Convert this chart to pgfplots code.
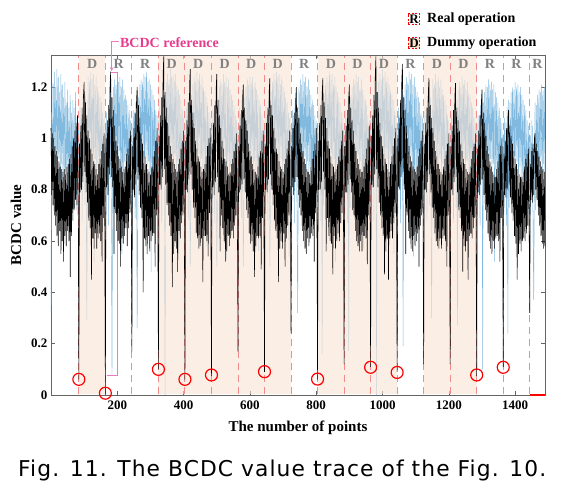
\documentclass[border=0pt]{standalone}
\usepackage{fontspec}
\setmainfont{Liberation Serif}
\newfontfamily\capfont[LetterSpace=5]{DejaVu Sans}
\usepackage{pgfplots}
\usepackage{pgfplotstable}
\pgfplotsset{compat=1.18}
\usetikzlibrary{arrows.meta}
\definecolor{trblue}{RGB}{130,185,222}
\definecolor{peach}{RGB}{248,226,212}
\definecolor{legpeach}{RGB}{250,225,205}
\definecolor{dashred}{RGB}{240,140,140}
\definecolor{pinkline}{RGB}{240,120,190}
\definecolor{pinktext}{RGB}{230,60,140}
\definecolor{axgrey}{RGB}{100,100,100}

% black trace, sampled every 2 points (x = 0,2,...,1490)
\pgfplotstableread[row sep=\\]{
y\\
1.04\\0.78\\1.02\\0.74\\1.00\\0.70\\0.97\\0.66\\0.95\\0.62\\0.93\\0.58\\0.91\\0.64\\0.89\\0.55\\0.88\\0.60\\0.87\\0.52\\0.88\\0.62\\0.86\\0.58\\0.89\\0.64\\0.90\\0.60\\0.92\\0.46\\0.94\\0.62\\0.97\\0.68\\1.00\\0.72\\1.03\\0.76\\1.06\\0.74\\1.09\\0.80\\
0.06\\0.98\\0.79\\1.05\\0.80\\1.12\\0.83\\1.17\\1.22\\0.87\\1.14\\0.79\\1.09\\0.75\\1.03\\0.68\\1.00\\0.65\\0.96\\0.45\\0.94\\0.61\\0.91\\0.57\\0.90\\0.63\\0.88\\0.57\\0.86\\0.61\\0.90\\0.63\\0.92\\0.60\\0.95\\0.52\\0.98\\0.69\\1.02\\0.73\\
0.00\\1.00\\0.81\\1.07\\0.78\\1.13\\0.86\\1.20\\1.26\\0.85\\1.16\\0.81\\1.11\\0.55\\1.05\\0.71\\0.99\\0.64\\0.97\\0.60\\0.93\\0.59\\0.92\\0.50\\0.89\\0.61\\0.87\\0.59\\0.88\\0.62\\0.89\\0.65\\0.94\\0.58\\0.96\\0.65\\1.00\\0.71\\1.03\\0.75\\
0.17\\0.97\\0.80\\1.04\\0.77\\1.10\\0.82\\1.15\\1.20\\0.84\\1.13\\0.78\\1.08\\0.73\\1.02\\0.69\\0.98\\0.40\\0.95\\0.61\\0.93\\0.58\\0.90\\0.55\\0.88\\0.62\\0.87\\0.56\\0.86\\0.60\\0.89\\0.62\\0.93\\0.63\\0.95\\0.50\\0.99\\0.70\\1.04\\0.74\\
0.10\\1.01\\0.82\\1.09\\0.80\\1.16\\0.85\\1.24\\1.32\\0.88\\1.18\\0.82\\1.12\\0.74\\1.06\\0.70\\1.01\\0.66\\0.97\\0.62\\0.94\\0.42\\0.92\\0.55\\0.90\\0.60\\0.88\\0.57\\0.87\\0.48\\0.90\\0.64\\0.92\\0.61\\0.96\\0.67\\0.99\\0.70\\1.03\\0.74\\
0.06\\0.99\\0.80\\1.07\\0.79\\1.14\\0.84\\1.21\\1.27\\0.86\\1.15\\0.80\\1.10\\0.73\\1.04\\0.69\\0.99\\0.63\\0.96\\0.61\\0.93\\0.57\\0.91\\0.58\\0.89\\0.61\\0.87\\0.44\\0.88\\0.62\\0.90\\0.62\\0.93\\0.60\\0.97\\0.54\\1.00\\0.71\\1.04\\0.75\\
0.075\\0.98\\0.81\\1.06\\0.78\\1.13\\0.83\\1.19\\1.25\\0.85\\1.15\\0.79\\1.09\\0.56\\1.04\\0.70\\0.99\\0.65\\0.96\\0.60\\0.92\\0.52\\0.91\\0.56\\0.89\\0.62\\0.86\\0.58\\0.87\\0.61\\0.90\\0.64\\0.92\\0.61\\0.95\\0.66\\0.98\\0.70\\1.02\\0.73\\
0.17\\0.97\\0.79\\1.05\\0.80\\1.11\\0.82\\1.16\\1.21\\0.84\\1.12\\0.79\\1.07\\0.72\\1.03\\0.69\\0.98\\0.63\\0.95\\0.59\\0.93\\0.60\\0.90\\0.56\\0.88\\0.46\\0.87\\0.58\\0.86\\0.62\\0.89\\0.61\\0.93\\0.62\\0.95\\0.49\\0.99\\0.69\\1.03\\0.74\\
0.09\\0.98\\0.80\\1.06\\0.79\\1.12\\0.84\\1.18\\1.235\\0.86\\1.13\\0.80\\1.09\\0.74\\1.04\\0.68\\1.00\\0.64\\0.96\\0.61\\0.94\\0.44\\0.91\\0.57\\0.89\\0.60\\0.88\\0.57\\0.87\\0.63\\0.90\\0.50\\0.92\\0.61\\0.96\\0.66\\0.99\\0.70\\1.03\\0.75\\
0.24\\0.97\\0.81\\1.04\\0.78\\1.10\\0.83\\1.15\\1.20\\0.85\\1.12\\0.78\\1.08\\0.73\\1.02\\0.70\\0.98\\0.64\\0.95\\0.60\\0.92\\0.57\\0.90\\0.55\\0.88\\0.61\\0.87\\0.58\\0.86\\0.61\\0.89\\0.63\\0.92\\0.62\\0.95\\0.52\\0.98\\0.71\\1.04\\0.74\\
0.06\\0.99\\0.80\\1.06\\0.80\\1.13\\0.83\\1.18\\1.235\\0.87\\1.14\\0.80\\1.08\\0.56\\1.04\\0.69\\0.99\\0.62\\0.96\\0.60\\0.93\\0.59\\0.90\\0.47\\0.89\\0.62\\0.87\\0.57\\0.88\\0.60\\0.90\\0.63\\0.93\\0.60\\0.96\\0.67\\0.99\\0.71\\1.03\\0.73\\
0.12\\0.97\\0.79\\1.05\\0.79\\1.11\\0.82\\1.16\\1.21\\0.84\\1.12\\0.79\\1.07\\0.72\\1.03\\0.70\\0.98\\0.64\\0.95\\0.60\\0.92\\0.58\\0.90\\0.56\\0.88\\0.60\\0.87\\0.56\\0.87\\0.62\\0.89\\0.62\\0.92\\0.61\\0.96\\0.51\\1.00\\0.70\\1.05\\0.76\\
0.11\\1.01\\0.82\\1.09\\0.81\\1.17\\0.86\\1.24\\1.32\\0.88\\1.18\\0.81\\1.12\\0.75\\1.06\\0.70\\1.01\\0.65\\0.97\\0.62\\0.94\\0.47\\0.92\\0.56\\0.90\\0.61\\0.88\\0.45\\0.87\\0.61\\0.90\\0.64\\0.93\\0.61\\0.97\\0.67\\1.00\\0.71\\1.04\\0.75\\
0.09\\1.00\\0.81\\1.08\\0.80\\1.15\\0.85\\1.22\\1.29\\0.87\\1.16\\0.80\\1.11\\0.55\\1.05\\0.70\\1.00\\0.64\\0.97\\0.61\\0.93\\0.57\\0.91\\0.56\\0.89\\0.62\\0.88\\0.58\\0.87\\0.60\\0.89\\0.63\\0.93\\0.50\\0.96\\0.66\\0.99\\0.70\\1.03\\0.74\\
0.12\\0.98\\0.80\\1.06\\0.79\\1.12\\0.83\\1.18\\1.235\\0.86\\1.13\\0.79\\1.08\\0.73\\1.04\\0.69\\0.99\\0.63\\0.95\\0.60\\0.93\\0.58\\0.90\\0.57\\0.88\\0.61\\0.87\\0.57\\0.86\\0.61\\0.89\\0.62\\0.92\\0.60\\0.95\\0.50\\0.98\\0.70\\1.02\\0.74\\
0.12\\0.97\\0.80\\1.05\\0.78\\1.11\\0.83\\1.16\\1.215\\0.85\\1.12\\0.79\\1.07\\0.72\\1.03\\0.69\\0.98\\0.64\\0.95\\0.48\\0.92\\0.58\\0.90\\0.56\\0.88\\0.60\\0.87\\0.45\\0.86\\0.62\\0.89\\0.63\\0.92\\0.61\\0.95\\0.65\\0.98\\0.69\\1.02\\0.73\\
0.075\\0.96\\0.79\\1.03\\0.78\\1.09\\0.82\\1.14\\1.19\\0.84\\1.10\\0.78\\1.06\\0.72\\1.01\\0.68\\0.97\\0.63\\0.94\\0.60\\0.91\\0.57\\0.89\\0.55\\0.87\\0.60\\0.86\\0.57\\0.85\\0.61\\0.88\\0.62\\0.91\\0.60\\0.94\\0.52\\0.97\\0.69\\1.00\\0.72\\
0.11\\0.94\\0.78\\0.99\\0.77\\1.04\\0.80\\1.08\\1.11\\0.82\\1.05\\0.77\\1.01\\0.71\\0.98\\0.68\\0.95\\0.62\\0.92\\0.59\\0.90\\0.45\\0.88\\0.55\\0.86\\0.59\\0.85\\0.56\\0.85\\0.60\\0.87\\0.61\\0.89\\0.60\\0.92\\0.63\\0.94\\0.66\\0.96\\0.70\\
0.32\\0.90\\0.76\\0.95\\0.75\\0.98\\0.78\\1.00\\1.02\\0.80\\0.98\\0.76\\0.95\\0.70\\0.93\\0.66\\0.91\\0.62\\0.89\\0.59\\0.88\\0.57\\0.87\\0.58\\
}\blackdata

% blue trace, sampled every 2 points (x = 0,2,...,1490)
\pgfplotstableread[row sep=\\]{
y\\
0.32\\1.10\\0.85\\1.22\\0.90\\1.26\\0.88\\1.20\\0.94\\1.27\\0.86\\1.24\\0.92\\1.18\\0.84\\1.25\\0.90\\1.21\\0.82\\1.16\\0.88\\1.22\\0.80\\1.14\\0.86\\1.19\\0.78\\1.12\\0.84\\1.17\\0.76\\1.10\\0.82\\1.15\\0.74\\1.12\\0.80\\1.18\\0.72\\1.08\\0.78\\1.05\\
1.06\\0.72\\1.12\\0.80\\1.09\\0.68\\1.16\\0.86\\1.19\\0.74\\1.17\\0.90\\0.29\\0.87\\1.24\\0.93\\1.22\\0.95\\1.26\\0.91\\1.23\\0.94\\1.25\\0.52\\1.21\\0.92\\1.24\\0.86\\1.20\\0.90\\1.18\\0.84\\1.16\\0.79\\1.14\\0.82\\1.10\\0.76\\1.08\\0.78\\
1.04\\0.70\\1.10\\0.82\\1.08\\0.66\\1.15\\0.84\\1.18\\0.72\\0.08\\0.88\\1.20\\0.86\\1.23\\0.92\\1.21\\0.94\\1.25\\0.90\\1.22\\0.95\\1.24\\0.87\\1.20\\0.55\\1.23\\0.88\\1.19\\0.91\\1.17\\0.83\\1.15\\0.80\\1.13\\0.81\\1.11\\0.75\\1.07\\0.77\\
1.05\\0.73\\1.11\\0.79\\1.10\\0.69\\1.14\\0.85\\0.26\\0.75\\1.16\\0.89\\1.21\\0.88\\1.23\\0.94\\1.22\\0.93\\1.25\\0.92\\1.24\\0.93\\1.26\\0.89\\1.22\\0.91\\1.23\\0.87\\1.21\\0.48\\1.19\\0.85\\1.17\\0.80\\1.15\\0.83\\1.11\\0.77\\1.09\\0.79\\
1.07\\0.71\\1.13\\0.81\\1.10\\0.67\\1.17\\0.87\\1.20\\0.73\\0.00\\0.91\\1.22\\0.88\\1.25\\0.92\\1.23\\0.96\\1.27\\0.90\\1.24\\0.93\\1.25\\0.89\\1.22\\0.93\\1.25\\0.85\\1.21\\0.91\\1.19\\0.55\\1.17\\0.80\\1.15\\0.83\\1.11\\0.76\\1.08\\0.78\\
1.06\\0.72\\1.12\\0.80\\1.09\\0.68\\1.16\\0.86\\0.50\\0.74\\1.17\\0.90\\1.21\\0.87\\1.24\\0.93\\1.22\\0.95\\1.26\\0.91\\1.23\\0.94\\1.25\\0.88\\1.21\\0.92\\1.24\\0.86\\1.20\\0.90\\1.18\\0.84\\1.16\\0.58\\1.14\\0.82\\1.10\\0.76\\1.08\\0.78\\
1.05\\0.71\\1.11\\0.81\\1.10\\0.67\\1.15\\0.85\\0.50\\0.73\\1.16\\0.89\\1.20\\0.86\\1.23\\0.92\\1.21\\0.94\\1.25\\0.90\\1.22\\0.93\\1.24\\0.53\\1.20\\0.91\\1.23\\0.87\\1.19\\0.89\\1.17\\0.83\\1.15\\0.80\\1.13\\0.81\\1.09\\0.75\\1.07\\0.77\\
1.04\\0.73\\1.12\\0.79\\1.08\\0.69\\1.15\\0.84\\0.50\\0.75\\1.16\\0.88\\1.20\\0.88\\1.23\\0.93\\1.21\\0.94\\1.24\\0.90\\1.22\\0.92\\1.24\\0.88\\1.20\\0.91\\1.22\\0.86\\1.19\\0.89\\1.17\\0.56\\1.15\\0.80\\1.13\\0.82\\1.09\\0.76\\1.07\\0.78\\
1.06\\0.72\\1.13\\0.80\\1.10\\0.68\\1.16\\0.86\\0.50\\0.74\\1.18\\0.90\\1.22\\0.87\\1.25\\0.93\\1.23\\0.95\\1.26\\0.91\\1.24\\0.94\\1.25\\0.88\\1.21\\0.92\\1.24\\0.86\\1.20\\0.90\\1.18\\0.84\\1.16\\0.79\\1.14\\0.82\\1.10\\0.54\\1.08\\0.78\\
1.05\\0.71\\1.11\\0.81\\1.09\\0.67\\1.15\\0.85\\1.18\\0.73\\0.32\\0.89\\1.20\\0.86\\1.23\\0.92\\1.21\\0.94\\1.25\\0.90\\1.22\\0.93\\1.24\\0.87\\1.20\\0.91\\1.23\\0.85\\1.19\\0.89\\1.17\\0.83\\1.15\\0.78\\1.13\\0.81\\1.09\\0.75\\1.07\\0.77\\
1.06\\0.72\\1.12\\0.80\\1.09\\0.68\\1.16\\0.16\\1.19\\0.74\\1.17\\0.90\\1.21\\0.87\\1.24\\0.93\\1.22\\0.95\\1.26\\0.91\\1.23\\0.94\\1.25\\0.88\\1.21\\0.92\\1.24\\0.52\\1.20\\0.90\\1.18\\0.84\\1.16\\0.79\\1.14\\0.82\\1.10\\0.76\\1.08\\0.78\\
1.04\\0.70\\1.11\\0.81\\1.08\\0.67\\1.15\\0.17\\1.18\\0.73\\1.16\\0.89\\1.20\\0.86\\1.23\\0.92\\1.21\\0.94\\1.25\\0.90\\1.22\\0.93\\1.24\\0.87\\1.20\\0.91\\1.23\\0.85\\1.19\\0.57\\1.17\\0.83\\1.15\\0.78\\1.13\\0.81\\1.09\\0.75\\1.07\\0.77\\
1.07\\0.72\\1.13\\0.81\\1.10\\0.68\\1.17\\0.86\\1.20\\0.00\\1.18\\0.90\\1.22\\0.88\\1.25\\0.93\\1.23\\0.95\\1.27\\0.91\\1.24\\0.94\\1.26\\0.88\\1.22\\0.92\\1.24\\0.86\\1.21\\0.90\\1.19\\0.84\\1.17\\0.79\\1.15\\0.55\\1.11\\0.76\\1.09\\0.78\\
1.06\\0.71\\1.12\\0.80\\1.09\\0.67\\1.16\\0.86\\1.19\\0.19\\1.17\\0.89\\1.21\\0.87\\1.24\\0.92\\1.22\\0.94\\1.26\\0.90\\1.23\\0.93\\1.25\\0.88\\1.21\\0.54\\1.24\\0.86\\1.20\\0.89\\1.18\\0.83\\1.16\\0.79\\1.14\\0.81\\1.10\\0.76\\1.08\\0.77\\
1.05\\0.72\\1.11\\0.80\\1.09\\0.68\\1.15\\0.85\\1.18\\0.74\\1.16\\0.89\\0.30\\0.87\\1.23\\0.93\\1.21\\0.94\\1.25\\0.91\\1.22\\0.93\\1.24\\0.88\\1.20\\0.92\\1.23\\0.86\\1.19\\0.90\\1.17\\0.84\\1.15\\0.56\\1.13\\0.82\\1.09\\0.76\\1.07\\0.78\\
1.04\\0.71\\1.10\\0.79\\1.08\\0.67\\1.14\\0.84\\1.17\\0.73\\1.15\\0.27\\1.19\\0.86\\1.22\\0.92\\1.20\\0.93\\1.24\\0.90\\1.21\\0.92\\1.23\\0.87\\1.19\\0.91\\1.22\\0.85\\1.18\\0.89\\1.16\\0.83\\1.14\\0.79\\1.12\\0.81\\1.08\\0.75\\1.06\\0.77\\
1.03\\0.70\\1.09\\0.79\\1.07\\0.66\\1.13\\0.84\\1.16\\0.10\\1.14\\0.88\\1.18\\0.86\\1.21\\0.91\\1.20\\0.93\\1.23\\0.89\\1.21\\0.92\\1.22\\0.87\\1.19\\0.90\\1.21\\0.52\\1.18\\0.88\\1.16\\0.83\\1.14\\0.78\\1.12\\0.80\\1.08\\0.75\\1.06\\0.76\\
1.02\\0.70\\1.08\\0.78\\1.06\\0.66\\1.12\\0.24\\1.15\\0.73\\1.14\\0.87\\1.18\\0.85\\1.20\\0.90\\1.19\\0.92\\1.22\\0.88\\1.20\\0.91\\1.21\\0.86\\1.18\\0.89\\1.20\\0.84\\1.17\\0.87\\1.15\\0.82\\1.13\\0.78\\1.11\\0.80\\1.07\\0.74\\1.05\\0.76\\
1.02\\0.70\\1.07\\0.78\\1.05\\0.66\\0.37\\0.84\\1.14\\0.72\\1.13\\0.86\\1.17\\0.84\\1.19\\0.89\\1.18\\0.91\\1.21\\0.87\\1.19\\0.90\\1.20\\0.85\\
}\bluedata

\begin{document}
\begin{tikzpicture}
\useasboundingbox (-51pt,-93pt) rectangle (514pt,395pt);
\begin{axis}[
  at={(0pt,0pt)}, anchor=south west,
  width=494pt, height=340pt, scale only axis,
  xmin=0, xmax=1490, ymin=0, ymax=1.325,
  clip=false,
  axis line style={draw=axgrey, line width=0.9pt},
  tick style={draw=axgrey, line width=0.6pt},
  major tick length=4pt,
  xtick={200,400,600,800,1000,1200,1400},
  xticklabels={200,400,600,800,1000,1200,1400},
  ytick={0,0.2,0.4,0.6,0.8,1,1.2},
  yticklabels={0,0.2,0.4,0.6,0.8,1,1.2},
  tick label style={font=\bfseries\fontsize{13}{14}\selectfont, text=black},
  xticklabel style={yshift=-2pt},
  xlabel={The number of points},
  ylabel={BCDC value},
  label style={font=\bfseries\fontsize{15}{16}\selectfont},
  xlabel style={at={(axis description cs:0.5,-0.065)}, anchor=north},
  ylabel style={at={(axis description cs:-0.053,0.5)}, anchor=south},
]
\addplot[trblue, line width=0.45pt] table[x expr=\coordindex*2, y=y]{\bluedata};

\fill[peach, fill opacity=0.6] (axis cs:84,0.003) rectangle (axis cs:164,1.322);
\fill[peach, fill opacity=0.6] (axis cs:324,0.003) rectangle (axis cs:724,1.322);
\fill[peach, fill opacity=0.6] (axis cs:804,0.003) rectangle (axis cs:1044,1.322);
\fill[peach, fill opacity=0.6] (axis cs:1124,0.003) rectangle (axis cs:1284,1.322);

\pgfplotsinvokeforeach{84,164,244,324,404,484,564,644,724,804,884,964,1044,1124,1204,1284,1364,1444}{
  \draw[dashred, line width=0.9pt, dash pattern=on 7pt off 5pt] (axis cs:#1,0.003) -- (axis cs:#1,1.322);
}

\draw[pinkline, line width=0.9pt] (axis cs:168,0.075) -- (axis cs:201,0.075) -- (axis cs:201,1.257) -- (axis cs:181,1.257);

\addplot[black, line width=0.55pt] table[x expr=\coordindex*2, y=y]{\blackdata};

\addplot[only marks, mark=o, mark size=6pt, mark options={draw=red, line width=1.2pt}] coordinates {
(84,0.061) (164,0.007) (324,0.10) (404,0.061) (484,0.078) (644,0.091)
(804,0.062) (964,0.108) (1044,0.088) (1284,0.078) (1364,0.108)};

\draw[red, line width=1.5pt] (axis cs:1444,0) -- (axis cs:1490,0);

\begin{scope}[every node/.style={font=\bfseries\fontsize{14}{14}\selectfont, text=gray}]
\node at (axis cs:124,1.29) {D};
\node at (axis cs:204,1.29) {R};
\node at (axis cs:284,1.29) {R};
\node at (axis cs:364,1.29) {D};
\node at (axis cs:444,1.29) {D};
\node at (axis cs:524,1.29) {D};
\node at (axis cs:604,1.29) {D};
\node at (axis cs:684,1.29) {D};
\node at (axis cs:764,1.29) {R};
\node at (axis cs:844,1.29) {D};
\node at (axis cs:924,1.29) {D};
\node at (axis cs:1004,1.29) {D};
\node at (axis cs:1084,1.29) {R};
\node at (axis cs:1164,1.29) {D};
\node at (axis cs:1244,1.29) {D};
\node at (axis cs:1324,1.29) {R};
\node at (axis cs:1404,1.29) {R};
\node at (axis cs:1467,1.29) {R};
\end{scope}

\node[anchor=west, text=pinktext, font=\bfseries\fontsize{14}{14}\selectfont, inner sep=0pt] at (axis cs:208,1.372) {BCDC reference};
\draw[pinkline, line width=0.9pt, -{Stealth[length=4pt,width=3.5pt]}] (axis cs:204,1.377) -- (axis cs:183,1.377) -- (axis cs:183,1.262);
\end{axis}

\node[draw=red, dash pattern=on 2pt off 1.5pt, line width=0.7pt, fill=white, inner sep=1pt, font=\bfseries\fontsize{13}{13}\selectfont] at (363pt,376pt) {R};
\node[anchor=west, inner sep=0pt, font=\bfseries\fontsize{14}{14}\selectfont] at (376pt,376pt) {Real operation};
\node[draw=red, dash pattern=on 2pt off 1.5pt, line width=0.7pt, fill=legpeach, inner sep=1pt, font=\bfseries\fontsize{13}{13}\selectfont] at (363pt,352pt) {D};
\node[anchor=west, inner sep=0pt, font=\bfseries\fontsize{14}{14}\selectfont] at (376pt,352pt) {Dummy operation};

\node[anchor=base west, inner sep=0pt] at (-33pt,-81pt) {\resizebox{528pt}{!}{\capfont\fontsize{19}{19}\selectfont Fig. 11. The BCDC value trace of the Fig. 10.}};
\end{tikzpicture}
\end{document}
